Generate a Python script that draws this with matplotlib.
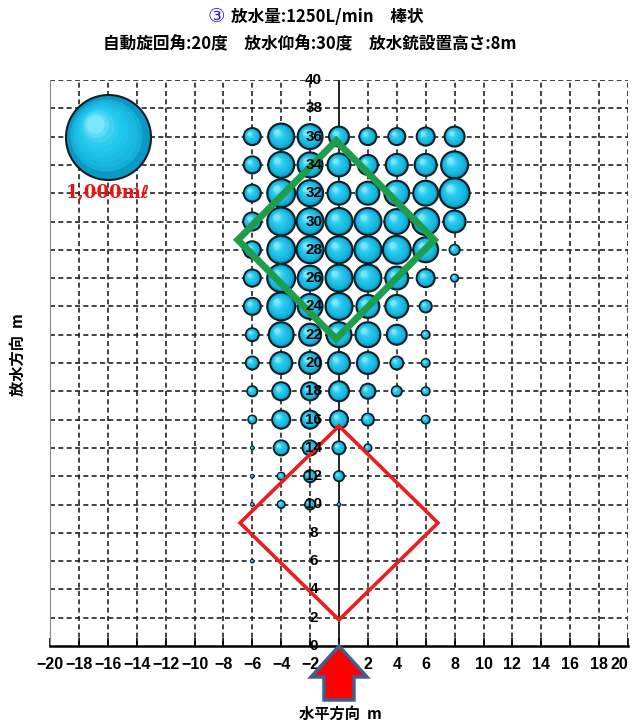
import matplotlib
matplotlib.use("Agg")
import matplotlib.pyplot as plt
import numpy as np
from matplotlib.patches import Polygon

plt.rcParams['font.family'] = ['Noto Sans CJK JP', 'DejaVu Sans']

# bubble grid (volume in ml), rows from y=36 down to y=6
col_x = [-6, -4, -2, 0, 2, 4, 6, 8]
row_y = [36, 34, 32, 30, 28, 26, 24, 22, 20, 18, 16, 14, 12, 10, 8, 6]
vol = [
    [40, 94, 86, 55, 40, 40, 45, 55],
    [40, 94, 86, 73, 55, 67, 67, 101],
    [40, 108, 94, 73, 73, 86, 86, 125],
    [45, 108, 101, 101, 101, 86, 101, 67],
    [40, 108, 101, 101, 101, 108, 86, 14],
    [40, 108, 86, 101, 101, 73, 45, 7],
    [40, 108, 86, 101, 73, 73, 20, 0],
    [23, 86, 67, 86, 86, 55, 9, 0],
    [23, 67, 67, 67, 67, 23, 9, 0],
    [14, 45, 45, 55, 31, 14, 9, 0],
    [9, 45, 45, 45, 20, 0, 9, 0],
    [1, 31, 31, 23, 7, 0, 0, 0],
    [1, 7, 20, 14, 0, 0, 0, 0],
    [1, 7, 14, 1, 0, 0, 0, 0],
    [0, 0, 0, 0, 0, 0, 0, 0],
    [1, 0, 0, 0, 0, 0, 0, 0],
]
ref_x, ref_y, ref_vol = -16, 36, 1000
ref_label = "1,000mℓ"

# target areas (diamonds): center, half width, half height
green_box = (-0.2, 28.7, 6.8, 7.0)
red_box = (0.0, 8.7, 6.85, 6.85)

x_ticks = list(range(-20, 21, 2))
y_ticks = list(range(0, 41, 2))

title1 = "放水量:1250L/min　棒状"
title2 = "自動旋回角:20度　放水仰角:30度　放水銃設置高さ:8m"

W, H = 634, 724
fig = plt.figure(figsize=(W / 100, H / 100), dpi=100)
ax = fig.add_axes([50 / W, 1 - 646 / H, 578 / W, 566 / H])
ax.set_xlim(-20, 20)
ax.set_ylim(0, 40)
pxu_x = 578 / 40
pxu_y = 566 / 40

# grid
for gx in x_ticks:
    if gx not in (-20, 0):
        ax.plot([gx, gx], [0, 40], ls=(0, (3, 2)), color='#222222', lw=1.2, zorder=1)
for gy in y_ticks:
    if gy != 0:
        ax.plot([-20, 20], [gy, gy], ls=(0, (3, 2)), color='#222222', lw=1.2, zorder=1)
ax.plot([0, 0], [0, 40], color='black', lw=1.2, zorder=1)

for s in ['top', 'right']:
    ax.spines[s].set_visible(False)
ax.spines['left'].set_color('#888888')
ax.spines['bottom'].set_linewidth(1.8)

ax.set_xticks(x_ticks)
labels = ax.set_xticklabels([("" if v == 0 else str(v).replace('-', '−')) for v in x_ticks],
                            fontfamily=['Liberation Sans'],
                            fontweight='bold', fontsize=11.5)
labels[-1].set_horizontalalignment('right')
labels[-1].set_x(20.6)
ax.tick_params(axis='x', direction='in', length=6, width=1.2, pad=8)
ax.set_yticks([])

for v in y_ticks:
    ax.text(-1.75, v, str(v), ha='center', va='center', fontsize=11,
            fontweight='bold', fontfamily=['Liberation Sans'], zorder=6)


def draw_bubbles(xs, ys, vs):
    xs = np.asarray(xs, float)
    ys = np.asarray(ys, float)
    d_px = 85 * np.sqrt(np.asarray(vs, float) / 1000.0)
    r_px = d_px / 2
    base = np.array([0.04, 0.60, 0.77])
    mid = np.array([0.13, 0.78, 0.93])
    light = np.array([0.62, 0.95, 1.0])
    n = 10
    ax.scatter(xs, ys, s=(d_px * 0.72) ** 2, facecolor=base,
               edgecolor='#0d1e24', linewidth=1.5, zorder=3)
    for k in range(1, n):
        t = k / n
        f = 1 - 0.85 * t
        if t < 0.5:
            c = base + (mid - base) * (t / 0.5) ** 0.5
        else:
            c = mid + (light - mid) * ((t - 0.5) / 0.5) ** 1.5
        ox = -(1 - f) * r_px * 0.4 / pxu_x
        oy = (1 - f) * r_px * 0.4 / pxu_y
        ax.scatter(xs + ox, ys + oy, s=(d_px * f * 0.72 * 0.93) ** 2,
                   color=c, linewidth=0, zorder=3)


bx, by, bv = [], [], []
for i, yy in enumerate(row_y):
    for j, xx in enumerate(col_x):
        if vol[i][j] > 0:
            bx.append(xx)
            by.append(yy)
            bv.append(vol[i][j])
draw_bubbles(bx, by, bv)
draw_bubbles([ref_x], [ref_y], [ref_vol])
ax.text(ref_x, ref_y - 4, ref_label, color='#ee1111', fontsize=13,
        fontweight='bold', fontfamily=['DejaVu Serif', 'DejaVu Sans'],
        ha='center', va='center', zorder=6)


def diamond(box, color, lw):
    cx, cy, hw, hh = box
    px = [cx, cx + hw, cx, cx - hw, cx]
    py = [cy + hh, cy, cy - hh, cy, cy + hh]
    ax.plot(px, py, color=color, lw=lw, zorder=5, solid_joinstyle='miter')


diamond(green_box, '#1e9e4c', 5)
diamond(red_box, '#ee1c1c', 2.6)

# red arrow under the axis
arr = np.array([[339, 646], [367, 677], [354, 677], [354, 700],
                [324, 700], [324, 677], [311, 677]], float)
arr[:, 0] /= W
arr[:, 1] = 1 - arr[:, 1] / H
fig.patches.append(Polygon(arr, closed=True, facecolor='#ff0000',
                           edgecolor='#3f5f90', lw=2.5,
                           transform=fig.transFigure, zorder=5))

fig.text(216 / W, 1 - 17 / H, "③", color='#1a1adb', fontsize=14,
         ha='center', va='center', fontfamily=['DejaVu Sans'])
fig.text(231 / W, 1 - 17 / H, title1, fontsize=12, fontweight='bold',
         ha='left', va='center')
fig.text(310 / W, 1 - 44 / H, title2, fontsize=12, fontweight='bold',
         ha='center', va='center')
fig.text(340 / W, 1 - 714 / H, "水平方向  m", fontsize=11, fontweight='bold',
         ha='center', va='center')
fig.text(18 / W, 1 - 355 / H, "放水方向  m", fontsize=11, fontweight='bold',
         ha='center', va='center', rotation=90)

fig.savefig("out.png", dpi=100)
